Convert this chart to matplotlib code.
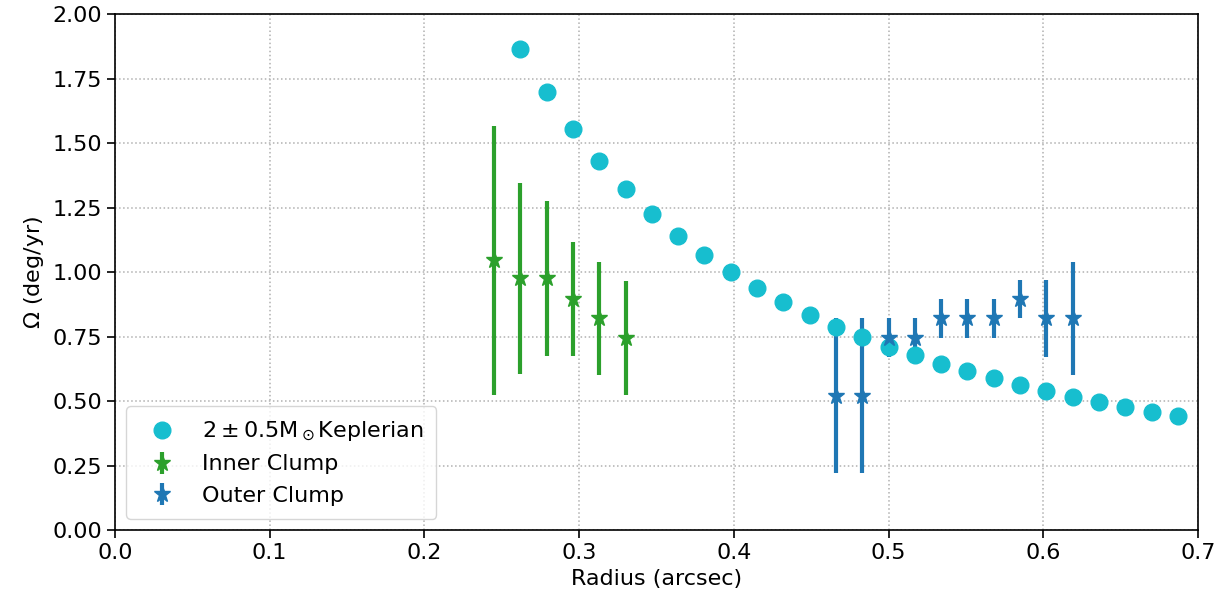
import matplotlib.pyplot as plt
import numpy as np

# Keplerian curve sampled at the clump radii
kep_r = [0.262, 0.279, 0.296, 0.313, 0.330, 0.347, 0.364, 0.381, 0.398,
         0.415, 0.432, 0.449, 0.466, 0.483, 0.500, 0.517, 0.534, 0.551,
         0.568, 0.585, 0.602, 0.619, 0.636, 0.653, 0.670, 0.687]
kep_omega = [1.864, 1.698, 1.554, 1.430, 1.322, 1.225, 1.140, 1.066, 1.000,
             0.938, 0.884, 0.833, 0.787, 0.748, 0.709, 0.678, 0.643, 0.616,
             0.589, 0.562, 0.539, 0.516, 0.496, 0.475, 0.457, 0.442]

# inner clump measurements
inner_r = [0.245, 0.262, 0.279, 0.296, 0.313, 0.330]
inner_omega = [1.045, 0.975, 0.975, 0.895, 0.820, 0.745]
inner_err = [0.52, 0.37, 0.30, 0.22, 0.22, 0.22]

# outer clump measurements
outer_r = [0.466, 0.483, 0.500, 0.517, 0.534, 0.551, 0.568, 0.585, 0.602, 0.619]
outer_omega = [0.52, 0.52, 0.745, 0.745, 0.82, 0.82, 0.82, 0.895, 0.82, 0.82]
outer_err = [0.30, 0.30, 0.075, 0.075, 0.075, 0.075, 0.075, 0.075, 0.15, 0.22]

fig, ax = plt.subplots(figsize=(12.19, 6.09), dpi=100)
fig.subplots_adjust(left=0.0943, right=0.9828, top=0.977, bottom=0.1297)

inner = ax.errorbar(inner_r, inner_omega, yerr=inner_err, fmt='*', color='tab:green',
                    markersize=12, elinewidth=3, capsize=0, label='Inner Clump')
outer = ax.errorbar(outer_r, outer_omega, yerr=outer_err, fmt='*', color='tab:blue',
                    markersize=12, elinewidth=3, capsize=0, label='Outer Clump')
kep, = ax.plot(kep_r, kep_omega, 'o', color='tab:cyan', markersize=12, zorder=2.05,
               label=r'$2\pm0.5\mathrm{M}_\odot$Keplerian')

ax.set_xlim(0, 0.7)
ax.set_ylim(0, 2.0)
ax.set_yticks(np.arange(0, 2.01, 0.25))
ax.grid(True, linestyle=':', color='#b0b0b0', linewidth=1.1)
ax.tick_params(labelsize=16, length=6, width=1.2)
for spine in ax.spines.values():
    spine.set_linewidth(1.2)
ax.set_xlabel('Radius (arcsec)', fontsize=16)
ax.set_ylabel(r'$\Omega$ (deg/yr)', fontsize=16)
ax.legend(handles=[kep, inner, outer], loc='lower left', fontsize=16, borderpad=0.6)

fig.savefig('out.png')
